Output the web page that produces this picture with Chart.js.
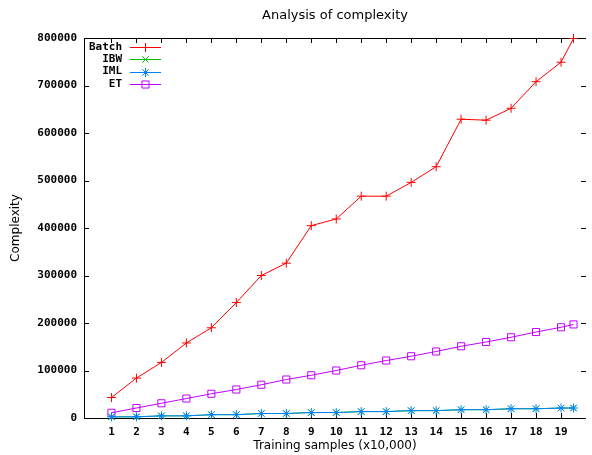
<!DOCTYPE html>
<html>
<head>
<meta charset="utf-8">
<script src="https://cdn.jsdelivr.net/npm/chart.js@4"></script>
<style>
  html, body { margin: 0; padding: 0; background: #ffffff; }
  #wrap { width: 592px; height: 455px; position: relative; }
</style>
</head>
<body>
<div id="wrap"><canvas id="complexityChart"></canvas></div>
<script>
// values
const samples = [1, 2, 3, 4, 5, 6, 7, 8, 9, 10, 11, 12, 13, 14, 15, 16, 17, 18, 19, 19.5];
const batch = [43000, 84000, 117000, 158000, 190000, 243000, 300000, 326000, 405000, 419000,
               467000, 467000, 496000, 529000, 629000, 627000, 652000, 708000, 749000, 799000];
const ibw = [2500, 2500, 4500, 4500, 7000, 7000, 9500, 9500, 11500, 11500,
             13500, 13500, 15500, 15500, 17500, 17500, 19500, 19500, 21000, 21000];
const iml = [2500, 2500, 4500, 4500, 7000, 7000, 9500, 9500, 11500, 11500,
             13500, 13500, 15500, 15500, 17500, 17500, 19500, 19500, 21000, 21000];
const et = [11000, 21000, 31000, 41000, 51000, 60000, 70000, 81000, 90000, 100000,
            111000, 121000, 130000, 140000, 151000, 160000, 170000, 181000, 191000, 197000];
const xTicks = [1, 2, 3, 4, 5, 6, 7, 8, 9, 10, 11, 12, 13, 14, 15, 16, 17, 18, 19];
const seriesNames = ['Batch', 'IBW', 'IML', 'ET'];

const tickFont = 'bold 11px "DejaVu Sans Mono"';

function pts(values) {
    return values.map((v, i) => ({ x: samples[i], y: v }));
}

function series(label, values, color, style, radius, order) {
    return {
        label: label,
        data: pts(values),
        borderColor: color,
        backgroundColor: color,
        borderWidth: 1,
        pointStyle: style,
        pointRadius: radius,
        pointBorderWidth: 1,
        pointBackgroundColor: 'rgba(0,0,0,0)',
        pointBorderColor: color,
        tension: 0,
        clip: false,
        order: order
    };
}

// border, inward ticks, title, axis titles and key (gnuplot look)
const gnuplotFrame = {
    id: 'gnuplotFrame',
    beforeDatasetsDraw(chart) {
        const ctx = chart.ctx;
        const a = chart.chartArea;
        const xs = chart.scales.x, ys = chart.scales.y;
        ctx.save();
        ctx.strokeStyle = '#000000';
        ctx.lineWidth = 1;
        ctx.beginPath();
        ctx.moveTo(a.left + 0.5, a.top + 0.5);
        ctx.lineTo(a.right, a.top + 0.5);
        ctx.moveTo(a.left + 0.5, a.top);
        ctx.lineTo(a.left + 0.5, a.bottom + 0.5);
        ctx.lineTo(a.right, a.bottom + 0.5);
        xs.ticks.forEach(t => {
            const px = Math.round(xs.getPixelForValue(t.value)) + 0.5;
            ctx.moveTo(px, a.bottom);
            ctx.lineTo(px, a.bottom - 5);
            ctx.moveTo(px, a.top);
            ctx.lineTo(px, a.top + 5);
        });
        ys.ticks.forEach(t => {
            const py = Math.round(ys.getPixelForValue(t.value)) + 0.5;
            ctx.moveTo(a.left, py);
            ctx.lineTo(a.left + 5, py);
            ctx.moveTo(a.right, py);
            ctx.lineTo(a.right - 5, py);
        });
        ctx.stroke();
        ctx.restore();
    },
    afterDraw(chart) {
        const ctx = chart.ctx;
        const a = chart.chartArea;
        ctx.save();
        ctx.fillStyle = '#000000';
        ctx.textAlign = 'center';
        ctx.textBaseline = 'middle';
        ctx.font = '13px "DejaVu Sans"';
        ctx.fillText('Analysis of complexity', 335, 16);
        ctx.font = '12px "DejaVu Sans"';
        ctx.fillText('Training samples (x10,000)', 335, 446);
        ctx.save();
        ctx.translate(16, (a.top + a.bottom) / 2);
        ctx.rotate(-Math.PI / 2);
        ctx.fillText('Complexity', 0, 0);
        ctx.restore();

        // key
        ctx.font = tickFont;
        ctx.textAlign = 'right';
        const rowY = [47, 59.3, 71.6, 84];
        chart.data.datasets.forEach((ds, i) => {
            const y = Math.round(rowY[i]) + 0.5;
            ctx.fillStyle = '#000000';
            ctx.fillText(seriesNames[i], 122, rowY[i]);
            ctx.strokeStyle = ds.borderColor;
            ctx.lineWidth = 1;
            ctx.beginPath();
            ctx.moveTo(130, y);
            ctx.lineTo(161, y);
            ctx.stroke();
            ctx.fillStyle = 'rgba(0,0,0,0)';
            ctx.strokeStyle = ds.pointBorderColor;
            Chart.helpers.drawPoint(ctx, {
                pointStyle: ds.pointStyle,
                radius: ds.pointRadius,
                rotation: 0,
                borderWidth: 1
            }, 145.5, y);
        });
        ctx.restore();
    }
};

document.addEventListener('DOMContentLoaded', function() {
    const ctx = document.getElementById('complexityChart').getContext('2d');
    new Chart(ctx, {
        type: 'line',
        data: {
            datasets: [
                series('Batch', batch, '#ff0000', 'cross', 4.5, 0),
                series('IBW', ibw, '#00c000', 'crossRot', 4.5, 2),
                series('IML', iml, '#0080ff', 'star', 4.5, 1),
                series('ET', et, '#c000ff', 'rect', 5, 3)
            ]
        },
        options: {
            responsive: true,
            maintainAspectRatio: false,
            animation: false,
            layout: { padding: { top: 38, right: 0, left: 0, bottom: 0 } },
            scales: {
                x: {
                    type: 'linear',
                    min: -0.1,
                    max: 20,
                    afterBuildTicks: function(scale) {
                        scale.ticks = xTicks.map(v => ({ value: v }));
                    },
                    afterFit: function(scale) { scale.height = 37; },
                    grid: { display: false, drawTicks: false },
                    border: { display: false },
                    ticks: {
                        color: '#000000',
                        font: { family: 'DejaVu Sans Mono', size: 11, weight: 'bold' },
                        padding: 8,
                        maxRotation: 0,
                        autoSkip: false
                    }
                },
                y: {
                    min: 0,
                    max: 800000,
                    afterFit: function(scale) { scale.width = 84; },
                    grid: { display: false, drawTicks: false },
                    border: { display: false },
                    ticks: {
                        stepSize: 100000,
                        color: '#000000',
                        font: { family: 'DejaVu Sans Mono', size: 11, weight: 'bold' },
                        padding: 7,
                        callback: function(v) { return String(v); }
                    }
                }
            },
            plugins: {
                legend: { display: false },
                tooltip: { enabled: false }
            }
        },
        plugins: [gnuplotFrame]
    });
});
</script>
</body>
</html>
